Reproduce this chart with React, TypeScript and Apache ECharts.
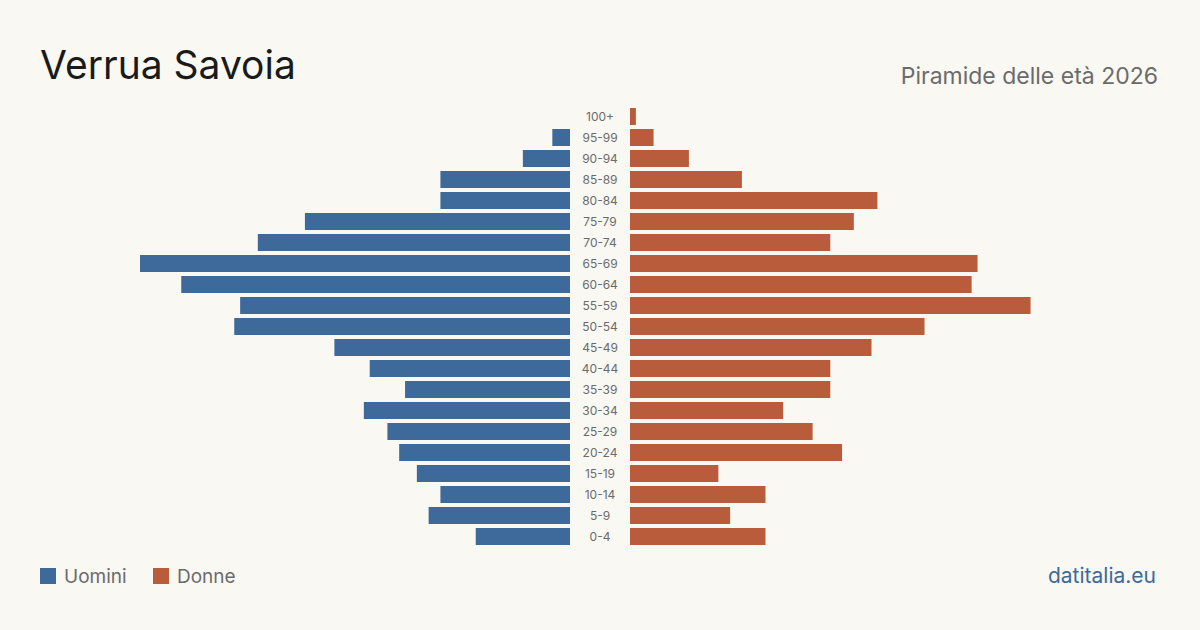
import React, { useEffect, useRef } from "react";
import * as echarts from "echarts";

const categories = ["0-4", "5-9", "10-14", "15-19", "20-24", "25-29", "30-34", "35-39", "40-44", "45-49", "50-54", "55-59", "60-64", "65-69", "70-74", "75-79", "80-84", "85-89", "90-94", "95-99", "100+"];
const men = [16, 24, 22, 26, 29, 31, 35, 28, 34, 40, 57, 56, 66, 73, 53, 45, 22, 22, 8, 3, 0];
const women = [23, 17, 23, 15, 36, 31, 26, 34, 34, 41, 50, 68, 58, 59, 34, 38, 42, 19, 10, 4, 1];

const BLUE = "#3d6a9a";
const ORANGE = "#b85c3c";
const FONT = "Inter, 'Noto Sans', sans-serif";

export default function App() {
  const ref = useRef<HTMLDivElement>(null);
  useEffect(() => {
    const chart = echarts.init(ref.current!, undefined, { renderer: "svg" });
    const maxV = Math.max(...men, ...women);
    chart.setOption({
      animation: false,
      backgroundColor: "#f9f8f3",
      textStyle: { fontFamily: FONT },
      grid: [
        { left: 140, width: 430, top: 106, height: 441 },
        { left: 630, width: 430, top: 106, height: 441 },
      ],
      xAxis: [
        { gridIndex: 0, type: "value", min: 0, max: maxV, inverse: true, show: false },
        { gridIndex: 1, type: "value", min: 0, max: maxV, show: false },
      ],
      yAxis: [
        { gridIndex: 0, type: "category", data: categories, show: false },
        {
          gridIndex: 1,
          type: "category",
          data: categories,
          axisLine: { show: false },
          axisTick: { show: false },
          axisLabel: { margin: 30, align: "center", color: "#6b6b6b", fontSize: 12, fontFamily: FONT },
        },
      ],
      series: [
        { name: "Uomini", type: "bar", xAxisIndex: 0, yAxisIndex: 0, data: men, barCategoryGap: "19%", itemStyle: { color: BLUE } },
        { name: "Donne", type: "bar", xAxisIndex: 1, yAxisIndex: 1, data: women, barCategoryGap: "19%", itemStyle: { color: ORANGE } },
      ],
      graphic: [
        { type: "text", left: 40, top: 45, style: { text: "Verrua Savoia", fontSize: 39, fontFamily: FONT, fill: "#1a1a1a" } },
        { type: "text", right: 42, top: 64, style: { text: "Piramide delle età 2026", fontSize: 23, fontFamily: FONT, fill: "#6b6b6b" } },
        { type: "rect", left: 40, top: 568, shape: { width: 16, height: 16 }, style: { fill: BLUE } },
        { type: "text", left: 64, top: 567, style: { text: "Uomini", fontSize: 19, fontFamily: FONT, fill: "#6b6b6b" } },
        { type: "rect", left: 153, top: 568, shape: { width: 16, height: 16 }, style: { fill: ORANGE } },
        { type: "text", left: 177, top: 567, style: { text: "Donne", fontSize: 19, fontFamily: FONT, fill: "#6b6b6b" } },
        { type: "text", right: 44, top: 565, style: { text: "datitalia.eu", fontSize: 21, fontFamily: FONT, fill: BLUE } },
      ],
    });
    return () => chart.dispose();
  }, []);
  return <div ref={ref} style={{ width: 1200, height: 630, position: "absolute", left: 0, top: 0 }} />;
}
